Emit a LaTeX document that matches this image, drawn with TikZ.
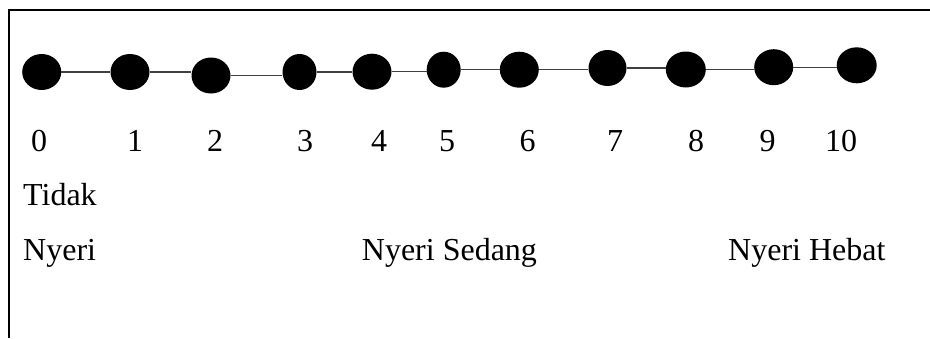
\documentclass[tikz,border=0pt]{standalone}
\usepackage{fontspec}
\setmainfont{Liberation Serif}
\usetikzlibrary{shapes.geometric}

\tikzset{
	dot/.style={ellipse, fill=black, inner sep=0pt, minimum height=36pt},
	link/.style={line width=1.1pt, black!75},
	lbl/.style={inner sep=0pt, font=\fontsize{32}{38}\selectfont}
}

\begin{document}
\begin{tikzpicture}[x=1pt, y=-1pt]
		\useasboundingbox (0, 0) rectangle (930, 338);

		% frame
		\draw [line width=2pt] (9, 338) -- (9, 10) -- (930, 10);

		% scale points
		\foreach \n/\x/\y/\w in {0/41.7/72/39, 1/130/72/39, 2/211/75.5/39,
			3/299.5/72/34, 4/372/71.7/39, 5/443.7/69.7/34, 6/519.3/69.7/39,
			7/607.5/68/38, 8/685.8/69.5/40, 9/773.7/67.2/39, 10/856.7/65.3/40} {
			\node [dot, minimum width=\w pt] (p\n) at (\x, \y) {};
		}

		\foreach \a/\b in {0/1, 1/2, 2/3, 3/4, 4/5, 5/6, 6/7, 7/8, 8/9, 9/10} {
			\draw [link] (p\a.east) -- (p\b.west |- p\a.east);
		}

		% numbers
		\foreach \n/\x in {0/39, 1/135, 2/215, 3/305, 4/379, 5/447,
			6/527.5, 7/615, 8/696, 9/767.5, 10/841} {
			\node [lbl, anchor=base] (n\n) at (\x, 151.7) {\n};
		}

		% descriptions
		\node [lbl, anchor=base west] (tidak) at (23, 205) {Tidak};
		\node [lbl, anchor=base west] (ringan) at (23, 260.7) {Nyeri};
		\node [lbl, anchor=base west] (sedang) at (361.7, 260.7) {Nyeri Sedang};
		\node [lbl, anchor=base west] (hebat) at (728, 260.7) {Nyeri Hebat};
	\end{tikzpicture}
\end{document}
